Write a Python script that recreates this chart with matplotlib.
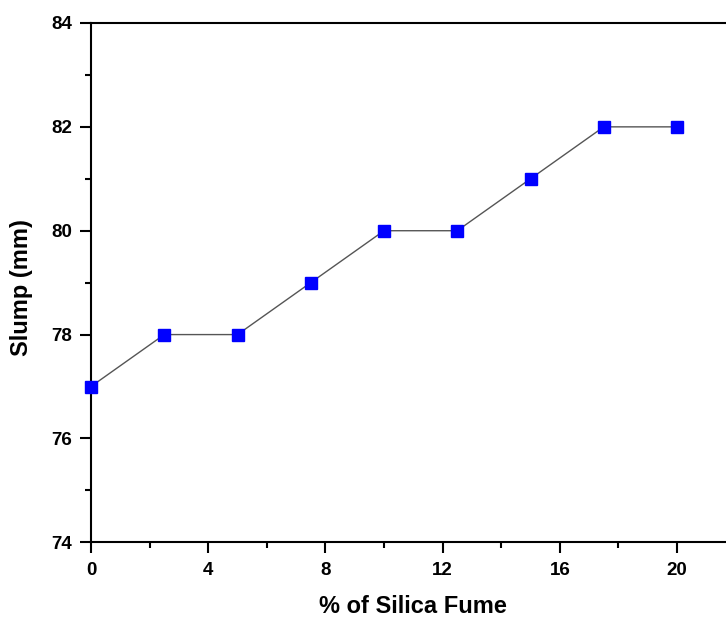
import matplotlib.pyplot as plt
from matplotlib.ticker import MultipleLocator

plt.rcParams['font.family'] = ['Liberation Sans', 'DejaVu Sans']
plt.rcParams['font.weight'] = 'bold'

silica_fume = [0, 2.5, 5, 7.5, 10, 12.5, 15, 17.5, 20]
slump = [77, 78, 78, 79, 80, 80, 81, 82, 82]

fig = plt.figure(figsize=(7.26, 6.17), dpi=100)
# axes runs past the right edge of the figure, like the cropped original
ax = fig.add_axes([91 / 726, 1 - 542.3 / 617, 644.6 / 726, 519.3 / 617])

ax.plot(silica_fume, slump, color='#555555', lw=1, marker='s', ms=9,
        mfc='#0000ff', mec='#0000ff', clip_on=False, zorder=3)

ax.set_xlim(0, 22)
ax.set_ylim(74, 84)
ax.xaxis.set_major_locator(MultipleLocator(4))
ax.xaxis.set_minor_locator(MultipleLocator(2))
ax.yaxis.set_major_locator(MultipleLocator(2))
ax.yaxis.set_minor_locator(MultipleLocator(1))
ax.tick_params(which='major', direction='out', length=8, width=1.5,
               labelsize=13.5)
ax.tick_params(axis='x', which='major', pad=6.5)
ax.tick_params(axis='y', which='major', pad=5.5)
ax.tick_params(which='minor', direction='out', length=4, width=1.5)
for s in ax.spines.values():
    s.set_linewidth(1.5)

ax.set_xlabel('% of Silica Fume', fontsize=17, fontweight='bold')
ax.set_ylabel('Slump (mm)', fontsize=17, fontweight='bold')
ax.xaxis.set_label_coords(0.5, -0.102)
ax.yaxis.set_label_coords(-0.09, 0.49)

fig.savefig('out.png', dpi=100)
